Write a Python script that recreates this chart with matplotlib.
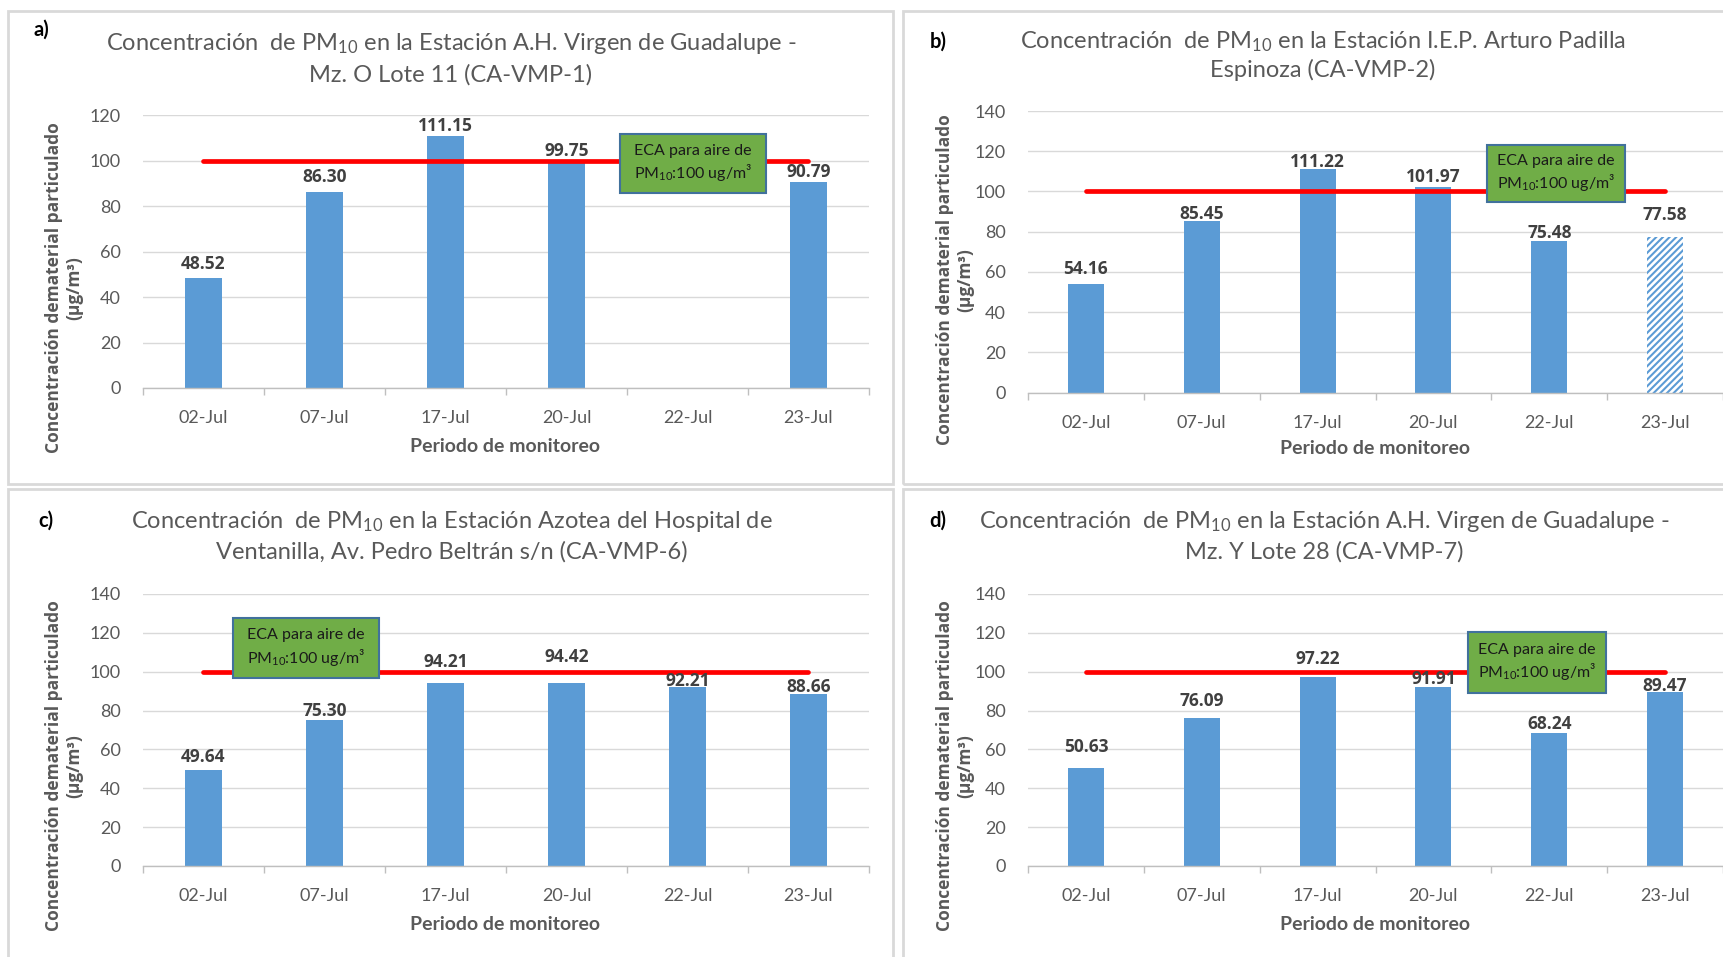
import numpy as np
import matplotlib
matplotlib.use("Agg")
import matplotlib.pyplot as plt
from matplotlib import font_manager
from matplotlib.patches import Rectangle

# ---- data -------------------------------------------------------------
dates = ["02-Jul", "07-Jul", "17-Jul", "20-Jul", "22-Jul", "23-Jul"]
pm10_vmp1 = [48.52, 86.30, 111.15, 99.75, np.nan, 90.79]
pm10_vmp2 = [54.16, 85.45, 111.22, 101.97, 75.48, 77.58]
pm10_vmp6 = [49.64, 75.30, 94.21, 94.42, 92.21, 88.66]
pm10_vmp7 = [50.63, 76.09, 97.22, 91.91, 68.24, 89.47]
eca_limit = 100

titles = [
    "Concentración  de PM$_{10}$ en la Estación A.H. Virgen de Guadalupe -\nMz. O Lote 11 (CA-VMP-1)",
    "Concentración  de PM$_{10}$ en la Estación I.E.P. Arturo Padilla\nEspinoza (CA-VMP-2)",
    "Concentración  de PM$_{10}$ en la Estación Azotea del Hospital de\nVentanilla, Av. Pedro Beltrán s/n (CA-VMP-6)",
    "Concentración  de PM$_{10}$ en la Estación A.H. Virgen de Guadalupe -\nMz. Y Lote 28 (CA-VMP-7)",
]
panel_tags = ["a)", "b)", "c)", "d)"]
ymax = [120, 140, 140, 140]
hatched_last = [False, True, False, False]

# ---- fonts ------------------------------------------------------------
available = {f.name for f in font_manager.fontManager.ttflist}


def first_font(*names):
    for n in names:
        if n in available:
            return n
    return "DejaVu Sans"


NARROW = first_font("Liberation Sans Narrow", "Lato", "Open Sans")
WIDE = first_font("Open Sans", "Noto Sans", "DejaVu Sans")
plt.rcParams["font.family"] = [NARROW, "DejaVu Sans"]
plt.rcParams["mathtext.fontset"] = "custom"
plt.rcParams["mathtext.rm"] = NARROW
plt.rcParams["mathtext.it"] = NARROW
plt.rcParams["mathtext.bf"] = NARROW + ":bold"
plt.rcParams["hatch.linewidth"] = 1.5

W, H = 1724, 957
fig = plt.figure(figsize=(W / 100, H / 100), dpi=100)
fig.patch.set_facecolor("white")


def fx(x):
    return x / W


def fy(y):
    return 1 - y / H


GRAY = "#595959"
BAR = "#5B9BD5"

# panel frames (pixel boxes: x0, y0, x1, y1)
frames = [(8, 11, 893, 484), (903, 11, 1730, 484), (8, 489, 893, 965), (903, 489, 1730, 965)]
# axes boxes (left, y of ymax, right, y of zero)
axboxes = [(143, 115.4, 869, 388), (1028, 111, 1723, 392.5), (143, 594, 869, 866), (1028, 594, 1723, 866)]
title_pos = [(451, 44, 75), (1323, 42, 70), (452, 521, 552), (1324, 521, 552)]
tag_pos = [(41, 30), (938, 42), (46, 521), (938, 521)]
xlabel_pos = [(505, 446), (1375, 448), (505, 925), (1375, 925)]
ylabel_pos = [(64, 288), (955, 280), (64, 766), (955, 766)]
# ECA note boxes in data coordinates: x0, x1, y0, y1
eca_boxes = [(3.44, 4.65, 85.8, 111.8), (3.46, 4.65, 94.7, 123.1),
             (0.24, 1.45, 97.0, 127.6), (3.30, 4.49, 89.0, 120.4)]
# vertical gap (pixels) between each bar top and the centre of its value label
label_gap = [[14, 15, 10, 10, 0, 10],
             [15, 7, 7, 10, 8, 22],
             [13, 9, 21, 26, 6, 7],
             [21, 17, 18, 8, 9, 6]]

series = [pm10_vmp1, pm10_vmp2, pm10_vmp6, pm10_vmp7]

for i in range(4):
    fr = frames[i]
    fig.patches.append(Rectangle((fx(fr[0]), fy(fr[3])), (fr[2] - fr[0]) / W, (fr[3] - fr[1]) / H,
                                 transform=fig.transFigure, fill=False, ec="#D9D9D9", lw=2, zorder=0))
    l, t, r, b = axboxes[i]
    ax = fig.add_axes([fx(l), fy(b), (r - l) / W, (b - t) / H])
    x = np.arange(len(dates))
    vals = np.array(series[i], dtype=float)
    bars = ax.bar(x, vals, width=0.31, color=BAR, zorder=2)
    if hatched_last[i]:
        bars[-1].set_facecolor("white")
        bars[-1].set_edgecolor(BAR)
        bars[-1].set_hatch("/////")
        bars[-1].set_linewidth(0)
    for xi, v, g in zip(x, vals, label_gap[i]):
        if np.isnan(v):
            continue
        ax.annotate(f"{v:.2f}", (xi, v), xytext=(0, g), textcoords="offset pixels",
                    ha="center", va="center", fontsize=12.5, fontweight="bold",
                    color="#404040", family=WIDE, zorder=5)
    # ECA limit line across the monitoring period
    ax.plot([x[0], x[-1]], [eca_limit, eca_limit], color="#FF0000", lw=3.4,
            solid_capstyle="round", zorder=3)
    bx0, bx1, by0, by1 = eca_boxes[i]
    ax.add_patch(Rectangle((bx0, by0), bx1 - bx0, by1 - by0, fc="#70AD47", ec="#41719C",
                           lw=1.5, zorder=6, clip_on=False))
    ax.text((bx0 + bx1) / 2, (by0 + by1) / 2, "ECA para aire de\nPM$_{10}$:100 ug/m³",
            ha="center", va="center", fontsize=11.5, color="#1a1a1a", zorder=7,
            linespacing=1.3, clip_on=False)

    ax.set_xlim(-0.5, len(dates) - 0.5)
    ax.set_ylim(0, ymax[i])
    ax.set_yticks(np.arange(0, ymax[i] + 1, 20))
    ax.set_xticks(x)
    ax.set_xticklabels(dates)
    ax.set_xticks(np.arange(-0.5, len(dates), 1), minor=True)
    ax.tick_params(axis="x", which="major", length=0, pad=16, labelsize=13, labelcolor=GRAY)
    ax.tick_params(axis="x", which="minor", length=5, color="#BFBFBF", width=1)
    ax.tick_params(axis="y", length=0, pad=16, labelsize=13, labelcolor=GRAY)
    ax.grid(axis="y", color="#D9D9D9", lw=1, zorder=0)
    ax.set_axisbelow(True)
    for s in ["left", "right", "top"]:
        ax.spines[s].set_visible(False)
    ax.spines["bottom"].set_color("#BFBFBF")
    ax.spines["bottom"].set_linewidth(1)
    ax.set_facecolor("none")

    tx, ty1, ty2 = title_pos[i]
    line1, line2 = titles[i].split("\n")
    fig.text(fx(tx), fy(ty1), line1, ha="center", va="center", fontsize=17, color=GRAY)
    fig.text(fx(tx), fy(ty2), line2, ha="center", va="center", fontsize=17, color=GRAY)
    fig.text(fx(tag_pos[i][0]), fy(tag_pos[i][1]), panel_tags[i], ha="center", va="center",
             fontsize=14.5, fontweight="bold", color="black")
    fig.text(fx(xlabel_pos[i][0]), fy(xlabel_pos[i][1]), "Periodo de monitoreo", ha="center",
             va="center", fontsize=14, fontweight="bold", color=GRAY)
    fig.text(fx(ylabel_pos[i][0]), fy(ylabel_pos[i][1]),
             "Concentración dematerial particulado\n(µg/m³)", ha="center", va="center",
             rotation=90, fontsize=12.5, fontweight="bold", color=GRAY, family=WIDE,
             linespacing=1.2)

fig.savefig("out.png", dpi=100)
